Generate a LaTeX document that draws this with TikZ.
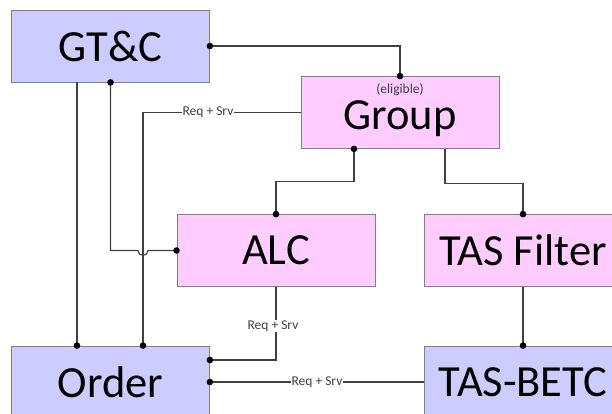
\documentclass[tikz,border=0pt]{standalone}
\usepackage{fontspec}
\setmainfont{Carlito}
\usetikzlibrary{calc}
\definecolor{boxblue}{HTML}{CCCCFF}
\definecolor{boxpink}{HTML}{FFCCFF}
\definecolor{edgegray}{HTML}{808080}
\definecolor{linegray}{HTML}{404040}
\begin{document}
\begin{tikzpicture}[x=1pt,y=-1pt,
  box/.style={draw=edgegray,line width=0.8pt,minimum width=198pt,minimum height=72pt,inner sep=0pt,
    font=\fontsize{44.5}{52}\selectfont},
  bluebox/.style={box,fill=boxblue},
  pinkbox/.style={box,fill=boxpink},
  conn/.style={draw=linegray,line width=1.1pt},
  lbl/.style={fill=white,inner sep=1pt,text=linegray,font=\fontsize{13.5}{15}\selectfont},
  dotmark/.style={fill=black}]
\useasboundingbox (0,0) rectangle (612,413);
\clip (0,0) rectangle (612,413);
\fill[white] (0,0) rectangle (612,413);
% boxes
\node[bluebox] (gtc) at (110.5,46) {GT\&C};
\node[pinkbox] (grp) at (400,112.5) {};
\node[inner sep=0pt,font=\fontsize{44.5}{52}\selectfont] (grptxt) at (400,119) {Group};
\node[inner sep=0pt,text=linegray,font=\fontsize{13.5}{15}\selectfont] (elig) at (400,90) {(eligible)};
\node[pinkbox] (alc) at (276,250.5) {ALC};
\node[pinkbox] (tasf) at (523,250.5) {TAS Filter};
\node[bluebox] (order) at (110.5,382) {Order};
\node[bluebox] (betc) at (523,382) {TAS-BETC};
% helper coordinates
\coordinate (gA) at ($(gtc.south)+(-33.5,0)$);
\coordinate (oA) at ($(order.north)+(-33.5,0)$);
\coordinate (oB) at ($(order.north)+(32.5,0)$);
\coordinate (gB) at ($(grp.south)+(-46,0)$);
\coordinate (gC) at ($(grp.south)+(45,0)$);
\coordinate (oR1) at ($(order.east)+(0,-22)$);
\coordinate (hopL) at ($(alc.west -| oB)+(-5,0)$);
\coordinate (hopR) at ($(alc.west -| oB)+(5,0)$);
% connectors
\draw[conn] (gtc.east) -- (gtc.east -| grp.north) -- (grp.north);
\draw[conn] (gtc.south) |- (hopL) arc[start angle=180,end angle=0,radius=5] -- (alc.west);
\draw[conn] (gA) -- (oA);
\draw[conn] (grp.west) -| (oB);
\node[lbl] (l1) at (208,112.5) {Req + Srv};
\draw[conn] (gB) |- ($(gB)+(0,33)$) -| (alc.north);
\draw[conn] (gC) |- ($(gC)+(0,35)$) -| (tasf.north);
\draw[conn] (alc.south) |- (oR1);
\node[lbl] (l2) at (273,326) {Req + Srv};
\draw[conn] (tasf.south) -- (betc.north);
\draw[conn] (betc.west) -- (order.east);
\node[lbl] (l3) at (317,382) {Req + Srv};
% dots
\foreach \p in {gtc.east,grp.north,gtc.south,alc.west,oA,oB,gB,alc.north,tasf.north,oR1,betc.north,order.east}
  \fill[dotmark] (\p) circle (3.3);
\end{tikzpicture}
\end{document}
